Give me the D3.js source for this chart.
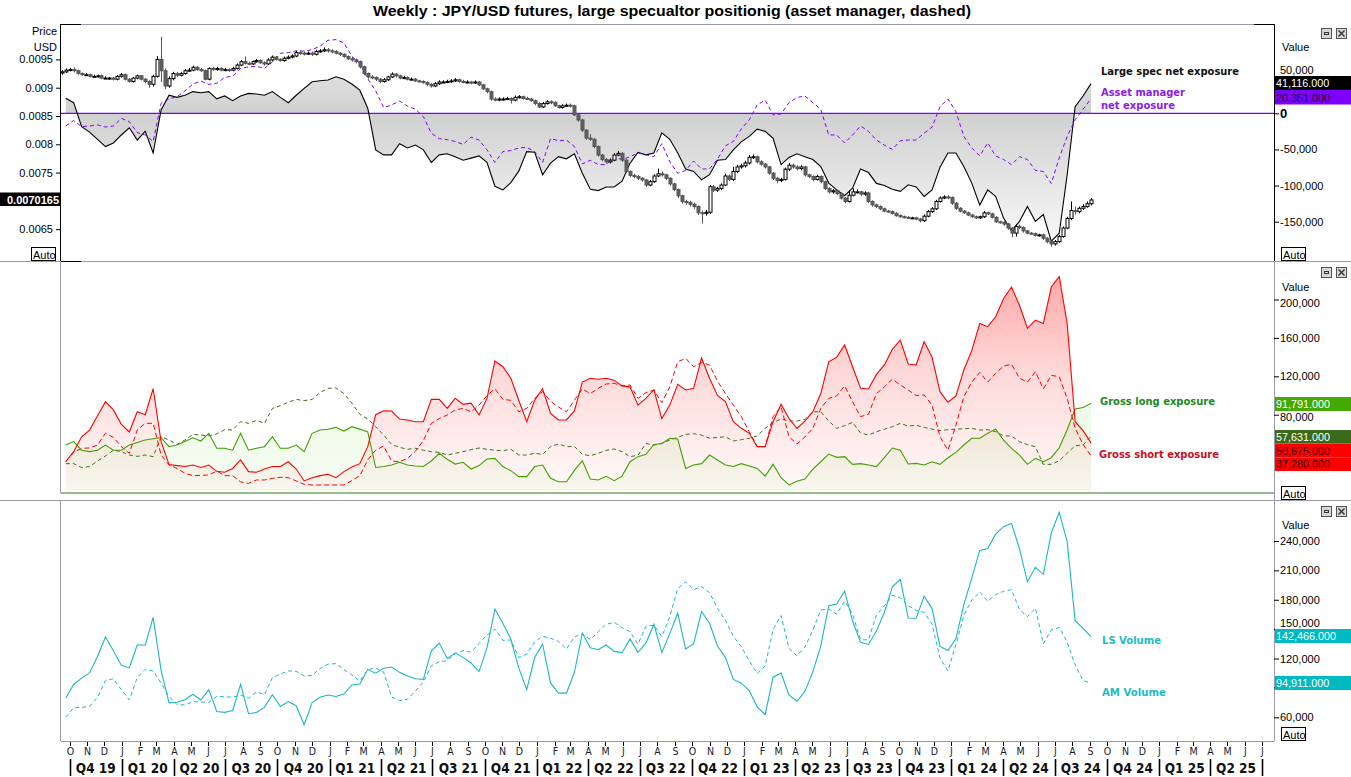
<!DOCTYPE html>
<html><head><meta charset="utf-8">
<script src="https://cdn.jsdelivr.net/npm/d3@7"></script>
<style>body{margin:0;background:#fff}svg{display:block}</style>
</head><body>
<svg id="chart" width="1351" height="777"></svg>
<script>
// ---------- DATA ----------
const title = "Weekly : JPY/USD futures, large specualtor positionig (asset manager, dashed)";
// weekly JPY/USD futures candles (first week starts 2019-09-17); open = previous close
const firstOpen = 0.00926;
const close = [
.00928,.00931,.00932,.00930,.00925,.00923,.00923,.00920,.00920,.00921,
.00917,.00917,.00917,.00915,.00920,.00923,.00915,.00911,.00917,.00921,
.00915,.00911,.00906,.00920,.00950,.00930,.00903,.00916,.00925,.00922,
.00925,.00930,.00931,.00936,.00932,.00930,.00915,.00934,.00932,.00934,
.00931,.00932,.00931,.00934,.00940,.00946,.00943,.00942,.00946,.00948,
.00944,.00942,.00949,.00954,.00950,.00948,.00952,.00954,.00956,.00962,
.00961,.00960,.00961,.00959,.00964,.00965,.00967,.00965,.00964,.00961,
.00959,.00955,.00951,.00949,.00946,.00937,.00925,.00919,.00918,.00915,
.00911,.00914,.00919,.00924,.00921,.00917,.00918,.00915,.00915,.00912,
.00911,.00909,.00906,.00903,.00907,.00910,.00910,.00911,.00912,.00914,
.00911,.00910,.00910,.00909,.00910,.00905,.00898,.00893,.00880,.00878,
.00880,.00880,.00881,.00878,.00883,.00884,.00881,.00880,.00877,.00872,
.00866,.00872,.00875,.00874,.00868,.00865,.00868,.00869,.00868,.00852,
.00843,.00825,.00811,.00809,.00796,.00781,.00773,.00769,.00772,.00781,
.00784,.00772,.00752,.00745,.00743,.00740,.00737,.00728,.00734,.00744,
.00748,.00746,.00740,.00730,.00720,.00709,.00699,.00697,.00694,.00690,
.00679,.00678,.00680,.00725,.00719,.00722,.00728,.00744,.00738,.00752,
.00760,.00762,.00767,.00777,.00778,.00769,.00765,.00760,.00749,.00740,
.00736,.00738,.00756,.00763,.00760,.00757,.00760,.00746,.00743,.00738,
.00743,.00734,.00722,.00716,.00718,.00713,.00705,.00699,.00710,.00716,
.00716,.00712,.00714,.00699,.00693,.00690,.00686,.00682,.00681,.00678,
.00674,.00672,.00671,.00670,.00670,.00668,.00665,.00673,.00681,.00686,
.00699,.00705,.00707,.00706,.00696,.00687,.00682,.00679,.00675,.00672,
.00670,.00672,.00679,.00677,.00671,.00663,.00662,.00659,.00652,.00643,
.00655,.00653,.00647,.00643,.00642,.00639,.00640,.00634,.00628,.00624,
.00628,.00637,.00652,.00669,.00683,.00681,.00687,.00690,.00695,.0070165];
const high = [
.00931,.00934,.00935,.00936,.00932,.00927,.00926,.00925,.00923,.00923,
.00923,.00920,.00919,.00919,.00922,.00926,.00925,.00917,.00919,.00923,
.00922,.00917,.00913,.00923,.00956,.00990,.00934,.00920,.00928,.00928,
.00928,.00933,.00935,.00939,.00938,.00935,.00932,.00936,.00937,.00937,
.00936,.00935,.00934,.00937,.00943,.00949,.00955,.00946,.00948,.00951,
.00950,.00947,.00952,.00957,.00956,.00952,.00955,.00957,.00959,.00965,
.00966,.00964,.00964,.00964,.00967,.00968,.00971,.00970,.00968,.00966,
.00963,.00961,.00957,.00954,.00952,.00948,.00939,.00927,.00922,.00920,
.00917,.00917,.00921,.00927,.00926,.00923,.00921,.00920,.00918,.00917,
.00914,.00913,.00911,.00908,.00910,.00913,.00913,.00914,.00915,.00917,
.00916,.00914,.00913,.00912,.00913,.00912,.00907,.00900,.00895,.00883,
.00883,.00883,.00884,.00883,.00886,.00887,.00886,.00884,.00882,.00879,
.00874,.00875,.00878,.00878,.00876,.00870,.00871,.00872,.00872,.00870,
.00854,.00845,.00827,.00818,.00811,.00798,.00783,.00776,.00775,.00784,
.00788,.00786,.00774,.00754,.00748,.00746,.00742,.00739,.00737,.00747,
.00757,.00752,.00748,.00742,.00732,.00722,.00711,.00702,.00700,.00697,
.00692,.00683,.00684,.00728,.00728,.00725,.00731,.00748,.00747,.00760,
.00764,.00766,.00771,.00781,.00782,.00780,.00772,.00767,.00762,.00751,
.00742,.00741,.00759,.00767,.00766,.00763,.00763,.00762,.00748,.00745,
.00746,.00745,.00736,.00724,.00721,.00720,.00715,.00707,.00719,.00722,
.00720,.00718,.00717,.00716,.00701,.00695,.00692,.00688,.00684,.00683,
.00680,.00676,.00674,.00673,.00672,.00672,.00670,.00676,.00684,.00689,
.00702,.00708,.00710,.00710,.00708,.00698,.00689,.00684,.00681,.00677,
.00674,.00674,.00682,.00681,.00679,.00673,.00665,.00664,.00661,.00654,
.00658,.00658,.00655,.00649,.00645,.00644,.00642,.00642,.00636,.00630,
.00631,.00640,.00655,.00672,.00699,.00690,.00690,.00694,.00699,.00705];
const low = [
.00923,.00926,.00929,.00927,.00923,.00921,.00921,.00918,.00918,.00918,
.00915,.00915,.00914,.00913,.00913,.00918,.00913,.00909,.00909,.00915,
.00913,.00908,.00900,.00902,.00918,.00910,.00898,.00900,.00913,.00919,
.00920,.00923,.00928,.00929,.00930,.00928,.00913,.00913,.00930,.00930,
.00929,.00929,.00928,.00929,.00932,.00938,.00941,.00940,.00940,.00944,
.00942,.00939,.00940,.00947,.00948,.00946,.00946,.00950,.00952,.00954,
.00958,.00957,.00958,.00956,.00957,.00962,.00963,.00962,.00961,.00959,
.00956,.00953,.00949,.00946,.00943,.00934,.00922,.00916,.00915,.00912,
.00908,.00909,.00912,.00917,.00918,.00915,.00915,.00913,.00913,.00910,
.00909,.00907,.00903,.00900,.00901,.00905,.00908,.00908,.00909,.00910,
.00909,.00908,.00908,.00906,.00907,.00903,.00896,.00890,.00877,.00876,
.00876,.00877,.00878,.00872,.00876,.00881,.00879,.00878,.00875,.00869,
.00864,.00864,.00870,.00871,.00866,.00863,.00863,.00866,.00865,.00850,
.00840,.00822,.00808,.00806,.00793,.00778,.00770,.00766,.00766,.00770,
.00779,.00769,.00749,.00742,.00740,.00737,.00734,.00725,.00726,.00732,
.00742,.00743,.00737,.00727,.00717,.00705,.00695,.00693,.00690,.00686,
.00675,.00660,.00674,.00677,.00716,.00716,.00719,.00726,.00735,.00735,
.00749,.00757,.00759,.00764,.00774,.00766,.00762,.00757,.00746,.00737,
.00731,.00733,.00736,.00753,.00757,.00754,.00754,.00743,.00740,.00735,
.00736,.00731,.00719,.00713,.00713,.00710,.00702,.00696,.00697,.00708,
.00713,.00709,.00709,.00696,.00690,.00687,.00684,.00680,.00679,.00676,
.00672,.00670,.00669,.00668,.00668,.00666,.00662,.00663,.00671,.00679,
.00684,.00697,.00703,.00703,.00693,.00684,.00680,.00677,.00673,.00670,
.00668,.00668,.00670,.00675,.00669,.00661,.00660,.00656,.00649,.00636,
.00637,.00650,.00644,.00641,.00640,.00637,.00637,.00631,.00625,.00619,
.00621,.00626,.00635,.00650,.00666,.00676,.00678,.00684,.00688,.00692];

// bi-weekly COT series (first point 2019-09-24)
const lsNet = [
20700,14700,-18400,-26000,-36000,-46000,-41000,-30000,-20000,-37000,
-25000,-55000,4600,25000,22000,25000,30000,28500,30000,20000,
24000,17500,24000,27600,26700,25000,30000,22000,14700,25000,
34500,43700,45000,46000,50600,47000,40500,32000,7000,-50600,
-57500,-57500,-42000,-48000,-44000,-50600,-68000,-57500,-56000,-60000,
-65000,-62000,-59000,-68000,-101000,-106000,-96000,-80000,-53000,-54000,
-85000,-69000,-60000,-63000,-56000,-83000,-105000,-107000,-102000,-102000,
-94000,-69000,-54000,-57500,-55000,-27000,-36000,-55000,-77000,-80500,
-92000,-85000,-65000,-64000,-50600,-39600,-32000,-22000,-25000,-34500,
-71000,-61000,-56000,-60000,-64000,-73600,-96600,-106000,-114000,-103500,
-77000,-82000,-97000,-100000,-105000,-108000,-99000,-102000,-115000,-106000,
-74500,-55000,-55000,-73600,-96600,-127000,-106000,-115000,-145000,-163000,
-149500,-129000,-149500,-140000,-177000,-166000,-85000,9000,24000,41116];
const amNet = [
-17500,-10000,-18400,-17500,-16000,-19000,-17500,-7000,-11500,-26700,
-30000,-39000,13800,20000,23000,31000,40500,44600,40000,41400,
49700,51500,62000,64400,65000,62000,71000,83000,84000,86500,
86000,88000,93000,101000,102000,97500,79000,69000,48000,31000,
8000,11500,17000,10000,5500,-4600,-27600,-35000,-36500,-39000,
-43000,-33000,-37000,-50600,-68000,-53000,-51500,-48000,-47000,-53000,
-68000,-35000,-38000,-37000,-46000,-70000,-65000,-71000,-71000,-61000,
-64000,-60000,-55000,-57500,-60000,-42000,-67000,-83000,-79000,-66000,
-77000,-77000,-63500,-45000,-39000,-21600,-9000,11500,18400,-2300,
-1000,14700,21800,24000,14700,5500,-30000,-30000,-41000,-30000,
-17500,-25000,-37000,-44000,-50000,-38000,-37000,-37000,-27600,-19000,
9000,20000,2300,-32000,-48000,-59000,-41000,-59000,-64000,-71000,
-60000,-64000,-79000,-80500,-97000,-62000,-32000,-9000,5500,20351];
const lsLong = [
48400,52000,43000,41500,43000,48400,43000,43000,48400,51000,
53600,55000,56000,46700,48400,52000,56000,52600,60600,45000,
45000,43000,60600,43000,45000,46700,57000,45000,45000,48400,
41500,60600,64000,64800,66800,63000,67500,65000,62000,25000,
26000,27600,30400,27600,26600,26000,31800,39800,33500,28600,
30400,23400,27000,33800,34500,26000,21700,15500,15500,26000,
27600,13700,10200,10200,22000,32000,13000,12000,15800,11300,
16000,31000,36300,38700,49000,50000,55400,54700,24000,27600,
29000,38000,32800,27600,26000,29000,26600,24000,16000,28300,
14400,6800,10600,13000,23400,31000,39000,35600,36300,28300,
29000,27600,26000,35200,45300,43000,28600,29300,27600,31000,
28300,35200,40800,48400,55400,55400,60600,65000,53600,45000,
38000,28300,34500,31000,35200,45600,64400,86000,87500,91791];
const lsShort = [
31000,41500,57000,64000,79000,93500,85000,70000,62000,83000,
80000,107000,52000,28000,27000,26000,27600,25000,27600,21000,
20000,24000,33000,20700,20000,23400,26000,26000,31000,23400,
11000,14400,16500,18000,14400,20700,25500,29000,46700,80000,
84000,83800,75500,74500,72700,72700,96000,96000,86600,97000,
90800,92000,79700,97000,136000,130000,118000,95000,72700,95000,
107000,81400,74500,74500,84000,114000,118000,117000,118000,116000,
110000,109000,90000,97000,106000,76000,90000,111600,105700,107500,
139000,118000,100000,93600,72700,65800,60600,46700,46700,72700,
90800,76000,65800,73400,83000,102000,135000,140000,152600,130000,
107500,106800,122000,131800,148000,157800,132800,131800,156000,140000,
104000,93000,99500,126600,147000,175000,171700,182000,201000,213000,
194000,170000,178600,175000,213000,223800,175000,72700,63400,50675];
const amLong = [
29000,29000,25000,26000,31800,37000,43000,41500,38000,36600,
38000,36300,57000,53600,49000,53600,59500,58800,58000,60000,
64400,64000,72700,71000,74000,71000,86600,89400,92900,96000,
94600,96000,103000,107500,108000,102000,92000,80400,75500,67500,
58800,49000,46000,44000,45000,43000,41500,40800,38000,39800,
41500,43600,45300,44000,43000,42500,44000,38000,38000,39800,
38700,46700,49500,46700,47000,38700,37300,39800,42900,44300,
41500,36300,37700,50000,48400,50000,53600,56400,59500,60200,
58800,55400,56400,57000,52600,54000,55400,58000,65800,71700,
75500,73400,73400,75000,83000,83000,73400,65800,68600,72000,
61000,58800,62300,64800,67500,71000,68200,69000,66800,65000,
63400,64400,65000,65400,65800,64000,64400,62300,58000,57800,
51900,48800,46700,28300,28300,32000,39800,47700,48400,57631];
const amShort = [
31000,40800,45000,45300,48400,60600,56400,46700,39800,64000,
71000,71000,38000,27600,24000,19000,16500,16800,17200,21400,
16500,16500,10000,8500,12000,12000,13700,14800,14400,11000,
7500,6800,6800,6800,6800,6800,11300,16500,33000,43000,
47400,31800,31000,34500,42000,53000,71000,76000,79700,85000,
86600,83000,90000,100000,107000,96000,95000,83000,86600,97000,
104000,94000,88000,83000,95000,106800,102000,107500,112000,112700,
110000,111000,97000,103000,105700,92500,109000,135000,138700,130000,
134600,131800,115000,102000,90000,78000,62300,46700,46700,78000,
88400,57000,49500,56800,65800,86600,97000,99500,110000,93600,
78000,80400,102000,109000,117000,111000,105700,100000,100500,90000,
57000,43000,69000,98800,114000,124000,114000,123000,130700,132500,
118000,114000,124800,106800,121000,119600,97000,65800,49000,37280];
const lsVolume = [
79400,93500,100000,105500,122000,141900,128000,113000,110400,134000,
133600,162000,108000,74700,75400,78000,83600,77600,88200,66000,
65000,67000,93600,63700,65000,70100,83000,71000,76000,71800,
52500,75000,80500,82800,81200,83700,93000,94000,108700,105000,
110000,111400,105900,102100,99300,98700,127800,135800,120100,125600,
121200,115400,106700,130800,170500,156000,139700,110500,88200,121000,
134600,95100,84700,84700,106000,146000,131000,129000,133800,127300,
126000,140000,126300,135700,155000,126000,145400,166300,129700,135100,
168000,156000,132800,121200,98700,94800,87200,70700,62700,101000,
105200,82800,76400,86400,106400,133000,174000,175600,188900,158300,
136500,134400,148000,167000,193300,200800,161400,161100,183600,171000,
132300,128200,140300,175000,202400,230400,232300,247000,254600,258000,
232000,198300,213100,206000,248200,269400,239400,158700,150900,142466];
const amVolume = [
60000,69800,70000,71300,80200,97600,99400,88200,77800,100600,
109000,107300,95000,81200,73000,72600,76000,75600,75200,81400,
80900,80500,82700,79500,86000,83000,100300,104200,107300,107000,
102100,102800,109800,114300,114800,108800,103300,96900,108500,110500,
106200,80800,77000,78500,87000,96000,112500,116800,117700,124800,
128100,126600,135300,144000,150000,138500,139000,121000,124600,136800,
142700,140700,137500,129700,142000,145500,139300,147300,154900,157000,
151500,147300,134700,153000,154100,142500,162600,191400,198200,190200,
193400,187200,171400,159000,142600,132000,117700,104700,112500,149700,
163900,130400,122900,131800,148800,169600,170400,165300,178600,165600,
139000,139200,164300,173800,184500,182000,173900,169000,167300,155000,
120400,107400,134000,164200,179800,188000,178400,185300,188700,190300,
169900,162800,171500,135100,149300,151600,136800,113500,97400,94911];

const priceTicks = [0.0065,0.0075,0.008,0.0085,0.009,0.0095];
const netTicks = [50000,0,-50000,-100000,-150000];
const grossTicks = [80000,120000,160000,200000];
const volTicks = [60000,120000,150000,180000,210000,240000];

// ---------- CHART ----------
const L = 61, R = 1274;
const svg = d3.select('#chart');
const defs = svg.append('defs');
const DAY = 864e5;
const FONT = '"Liberation Sans", Arial, sans-serif';
const NARROW = '"Liberation Sans Narrow","DejaVu Sans Condensed","Liberation Sans",sans-serif';
const GRAY = '#9a9aaa';

const x = d3.scaleUtc().domain([Date.UTC(2019,9,1), Date.UTC(2025,6,1)]).range([69.7, 1261.9]);
const wkDates = close.map((_, i) => new Date(Date.UTC(2019,8,17) + i*7*DAY));
const biDates = lsNet.map((_, i) => new Date(Date.UTC(2019,8,24) + i*14*DAY));

const yP = d3.scaleLinear().domain([0.0065,0.0095]).range([229.2,59.4]);
const yN = d3.scaleLinear().domain([-150000,0]).range([221.7,113.3]);
const yG = d3.scaleLinear().domain([0,200000]).range([491.5,299.5]);
const yV = d3.scaleLinear().domain([60000,240000]).range([717.3,541]);

[[1,24,262],[2,262,493],[3,501,741]].forEach(([id,t,b]) =>
  defs.append('clipPath').attr('id','clip'+id).append('rect')
    .attr('x',L).attr('y',t).attr('width',R-L).attr('height',b-t));

function grad(id, y1, y2, stops){
  const g = defs.append('linearGradient').attr('id',id).attr('gradientUnits','userSpaceOnUse')
    .attr('x1',0).attr('x2',0).attr('y1',y1).attr('y2',y2);
  stops.forEach(s => g.append('stop').attr('offset',s[0]).attr('stop-color',s[1]).attr('stop-opacity',s[2]));
}
grad('gNet', 24, 261, [[0,'#f3f3f3',1],[0.377,'#d0d0d0',1],[0.93,'#f9f9f9',1],[1,'#ffffff',1]]);
grad('gRed', 276, 492, [[0,'#ff0000',0.34],[0.45,'#ff0000',0.15],[1,'#ff0000',0.02]]);
grad('gGreen', 380, 492, [[0,'#50c800',0.12],[1,'#50c800',0.04]]);

const line = (y) => d3.line().x((d,i) => x(biDates[i])).y(d => y(d));
const area = (y, base) => d3.area().x((d,i) => x(biDates[i])).y0(base).y1(d => y(d));

function hline(y,x1,x2,c,w){svg.append('line').attr('x1',x1).attr('x2',x2).attr('y1',y).attr('y2',y).attr('stroke',c).attr('stroke-width',w||1);}
function vline(xx,y1,y2,c,w){svg.append('line').attr('x1',xx).attr('x2',xx).attr('y1',y1).attr('y2',y2).attr('stroke',c).attr('stroke-width',w||1);}

// title
svg.append('text').attr('x',672).attr('y',16).attr('text-anchor','middle')
  .attr('font-family',FONT).attr('font-weight','bold').attr('font-size',15).attr('fill','#000')
  .attr('textLength',598).attr('lengthAdjust','spacingAndGlyphs').text(title);

// ===== Panel 1 =====
const p1 = svg.append('g').attr('clip-path','url(#clip1)');
p1.append('path').datum(lsNet).attr('d', area(yN, yN(0))).attr('fill','url(#gNet)');
p1.append('line').attr('x1',L).attr('x2',R).attr('y1',yN(0)).attr('y2',yN(0)).attr('stroke','#7f00ff').attr('stroke-width',1.2);
p1.append('path').datum(lsNet).attr('d', line(yN)).attr('fill','none').attr('stroke','#000').attr('stroke-width',1.1);
p1.append('path').datum(amNet).attr('d', line(yN)).attr('fill','none').attr('stroke','#8000ff').attr('stroke-width',1).attr('stroke-dasharray','4,3');

const candles = close.map((c,i) => ({d: wkDates[i], o: i ? close[i-1] : firstOpen, c, h: high[i], l: low[i]}));
const cg = p1.append('g');
candles.forEach(k => {
  const cx = Math.round(x(k.d));
  const up = k.c >= k.o;
  const col = up ? '#000' : '#555';
  cg.append('line').attr('x1',cx+0.5).attr('x2',cx+0.5).attr('y1',yP(k.h)).attr('y2',yP(k.l)).attr('stroke',col).attr('stroke-width',1);
  const top = yP(Math.max(k.o,k.c)), bot = yP(Math.min(k.o,k.c));
  cg.append('rect').attr('x',cx-1).attr('y',top).attr('width',3).attr('height',Math.max(1,bot-top))
    .attr('fill', up ? '#fff' : '#626262').attr('stroke',col).attr('stroke-width',1);
});

// ===== Panel 2 =====
const p2 = svg.append('g').attr('clip-path','url(#clip2)');
p2.append('path').datum(lsShort).attr('d', area(yG, yG(0))).attr('fill','url(#gRed)');
p2.append('path').datum(lsLong).attr('d', area(yG, yG(0))).attr('fill','url(#gGreen)');
p2.append('path').datum(amLong).attr('d', line(yG)).attr('fill','none').attr('stroke','#3c6e1e').attr('stroke-width',1).attr('stroke-dasharray','4,3');
p2.append('path').datum(amShort).attr('d', line(yG)).attr('fill','none').attr('stroke','#ff0000').attr('stroke-width',1).attr('stroke-dasharray','5,3');
p2.append('path').datum(lsLong).attr('d', line(yG)).attr('fill','none').attr('stroke','#3fa000').attr('stroke-width',1.1);
p2.append('path').datum(lsShort).attr('d', line(yG)).attr('fill','none').attr('stroke','#ff0000').attr('stroke-width',1.1);

// ===== Panel 3 =====
const p3 = svg.append('g').attr('clip-path','url(#clip3)');
p3.append('path').datum(amVolume).attr('d', line(yV)).attr('fill','none').attr('stroke','#1cb8c4').attr('stroke-width',1).attr('stroke-dasharray','4,3');
p3.append('path').datum(lsVolume).attr('d', line(yV)).attr('fill','none').attr('stroke','#1cb8c4').attr('stroke-width',1.1);

// ===== Frames =====
hline(24.5, L, R, GRAY); hline(24.5, L, L+20, '#000'); hline(24.5, R-20, R, '#000');
vline(60.5, 24, 262, '#000'); vline(1274.5, 24, 262, '#000');
hline(261.5, 0, 1351, GRAY); hline(261.5, L, L+20, '#000');
vline(60.5, 262, 493, GRAY); vline(1274.5, 262, 500, GRAY);
hline(493, L, R, '#2f7a1a');
hline(500.5, 0, 1351, GRAY);
vline(60.5, 501, 741, GRAY); vline(1274.5, 501, 741, GRAY);
hline(741.5, L, R, GRAY);

// ===== Axes =====
const fmtNum = d => d.toLocaleString('en-US');
function styleAxis(g){ g.select('.domain').remove(); g.attr('font-size',11).attr('font-family',FONT); g.selectAll('text').attr('fill','#000'); g.selectAll('line').attr('stroke','#000'); }
svg.append('g').attr('transform',`translate(${L},0)`)
  .call(d3.axisLeft(yP).tickValues(priceTicks).tickSize(5).tickPadding(3).tickFormat(d => String(+d.toFixed(4)))).call(styleAxis);
// hidden ticks (labels covered in the original by value boxes)
[[L-5, yP(0.007)]].forEach(([xx,yy]) => svg.append('line').attr('x1',xx).attr('x2',L).attr('y1',yy).attr('y2',yy).attr('stroke','#000'));
svg.append('line').attr('x1',R).attr('x2',R+5).attr('y1',yV(90000)).attr('y2',yV(90000)).attr('stroke','#000');

const axN = svg.append('g').attr('transform',`translate(${R},0)`)
  .call(d3.axisRight(yN).tickValues(netTicks).tickSize(5).tickPadding(1).tickFormat(fmtNum)).call(styleAxis);
axN.selectAll('text').filter(d => d === 0).attr('font-weight','bold').attr('font-size',13);
axN.selectAll('text').filter(d => d === 50000).attr('y',-7);
const axG = svg.append('g').attr('transform',`translate(${R},0)`)
  .call(d3.axisRight(yG).tickValues(grossTicks).tickSize(5).tickPadding(1).tickFormat(fmtNum)).call(styleAxis);
axG.selectAll('text').filter(d => d === 80000).attr('y',2);
axG.selectAll('text').filter(d => d === 200000).attr('y',3);
const axV = svg.append('g').attr('transform',`translate(${R},0)`)
  .call(d3.axisRight(yV).tickValues(volTicks).tickSize(5).tickPadding(1).tickFormat(fmtNum)).call(styleAxis);
axV.selectAll('text').filter(d => d === 150000).attr('y',-6);

// axis headers
function txt(xx, yy, s, o){ const t = svg.append('text').attr('x',xx).attr('y',yy).attr('font-family',FONT).attr('font-size',11).attr('fill','#000').text(s); if(o) Object.entries(o).forEach(([k,v])=>t.attr(k,v)); return t; }
txt(57, 35, 'Price', {'text-anchor':'end'});
txt(57, 51, 'USD', {'text-anchor':'end'});
[51, 291, 529].forEach(yy => txt(1282, yy, 'Value'));

// current price label
svg.append('rect').attr('x',0).attr('y',192.5).attr('width',60).attr('height',13.5).attr('fill','#000');
txt(59, 203.5, '0.0070165', {'text-anchor':'end','fill':'#fff','font-weight':'bold'});

// value boxes
function vbox(yy, h, bg, fg, s){
  svg.append('rect').attr('x',1275).attr('y',yy).attr('width',76).attr('height',h).attr('fill',bg);
  txt(1276, yy + h - 3, s, {'fill':fg,'font-size':10.8});
}
vbox(76, 14, '#000', '#fff', fmtNum(lsNet[lsNet.length-1]) + '.000');
vbox(90, 14.5, '#8000ff', '#1a0033', fmtNum(amNet[amNet.length-1]) + '.000');
vbox(397, 14, '#44aa00', '#fff', fmtNum(lsLong[lsLong.length-1]) + '.000');
vbox(430, 13.5, '#3b6b1a', '#fff', fmtNum(amLong[amLong.length-1]) + '.000');
vbox(443.5, 14, '#ff0000', '#330000', fmtNum(lsShort[lsShort.length-1]) + '.000');
vbox(457.5, 13.5, '#ff0000', '#330000', fmtNum(amShort[amShort.length-1]) + '.000');
vbox(629, 14, '#00b9c1', '#fff', fmtNum(lsVolume[lsVolume.length-1]) + '.000');
vbox(676, 14, '#00b9c1', '#fff', fmtNum(amVolume[amVolume.length-1]) + '.000');

// Auto boxes
function autoBox(xx, yy){
  svg.append('rect').attr('x',xx+0.5).attr('y',yy+0.5).attr('width',24).attr('height',13).attr('fill','#fff').attr('stroke','#000');
  txt(xx+2, yy+11.5, 'Auto');
}
autoBox(31, 247); autoBox(1281, 247); autoBox(1281, 486); autoBox(1281, 727);

// window icons
function icons(yy){
  svg.append('rect').attr('x',1321.5).attr('y',yy+0.5).attr('width',10).attr('height',10).attr('fill','#d6d6d6').attr('stroke','#555');
  svg.append('rect').attr('x',1324.5).attr('y',yy+4.5).attr('width',4).attr('height',2).attr('fill','none').attr('stroke','#333');
  svg.append('rect').attr('x',1336.5).attr('y',yy+0.5).attr('width',10).attr('height',10).attr('fill','#d6d6d6').attr('stroke','#555');
  svg.append('path').attr('d',`M1338.5,${yy+2.5}L1344.5,${yy+8.5}M1344.5,${yy+2.5}L1338.5,${yy+8.5}`).attr('stroke','#333').attr('stroke-width',1.4);
}
icons(28); icons(267); icons(506);

// series labels
function slabel(xx, yy, s, col, w){
  svg.append('text').attr('x',xx).attr('y',yy).attr('font-family','"DejaVu Sans",Verdana,sans-serif').attr('font-weight','bold')
    .attr('font-size',11).attr('fill',col).attr('textLength',w).attr('lengthAdjust','spacingAndGlyphs').text(s);
}
slabel(1101, 75, 'Large spec net exposure', '#111', 138);
slabel(1101, 96, 'Asset manager', '#8a1cf0', 84);
slabel(1101, 109, 'net exposure', '#8a1cf0', 74);
slabel(1100, 405, 'Gross long exposure', '#1e8a1e', 115);
slabel(1099, 458, 'Gross short exposure', '#c8101e', 120);
slabel(1102, 644, 'LS Volume', '#22bcc6', 59);
slabel(1102, 696, 'AM Volume', '#22bcc6', 64);

// ===== time axis =====
const months = d3.utcMonth.range(new Date(Date.UTC(2019,9,1)), new Date(Date.UTC(2025,7,1)));
const mg = svg.append('g');
months.forEach(m => {
  const xx = Math.round(x(m)) + 0.5;
  mg.append('line').attr('x1',xx).attr('x2',xx).attr('y1',742).attr('y2',746).attr('stroke','#000');
  mg.append('text').attr('x',xx).attr('y',755).attr('text-anchor','middle').attr('font-family',NARROW)
    .attr('font-size',10.5).attr('fill','#1a1a2a').text(d3.utcFormat('%b')(m)[0]);
});
const quarters = d3.utcMonth.every(3).range(new Date(Date.UTC(2019,9,1)), new Date(Date.UTC(2025,7,1)));
quarters.forEach((q, i) => {
  const xx = Math.round(x(q)) + 0.5;
  mg.append('line').attr('x1',xx).attr('x2',xx).attr('y1',759).attr('y2',776).attr('stroke','#000').attr('stroke-width',1.6);
  if (i < quarters.length - 1) {
    const nx = x(quarters[i+1]);
    const lbl = 'Q' + (Math.floor(q.getUTCMonth()/3) + 1) + ' ' + String(q.getUTCFullYear()).slice(2);
    mg.append('text').attr('x',(x(q)+nx)/2).attr('y',773).attr('text-anchor','middle').attr('font-family',NARROW)
      .attr('font-weight','bold').attr('font-size',13.5).attr('fill','#111').text(lbl);
  }
});
</script>
</body></html>
